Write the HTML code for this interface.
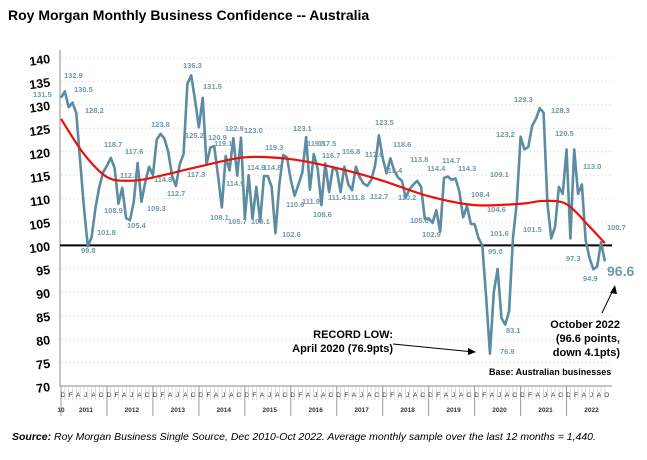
<!DOCTYPE html>
<html><head><meta charset="utf-8"><style>
body{margin:0;background:#fff;width:647px;height:455px;overflow:hidden;font-family:"Liberation Sans",Arial,sans-serif}
</style></head><body>
<svg id="c" width="647" height="455" xmlns="http://www.w3.org/2000/svg">
<text x="8" y="20" font-size="14" font-weight="bold" fill="#000">Roy Morgan Monthly Business Confidence -- Australia</text>
<g id="grid"></g><g id="axes"></g><g id="series"></g><g id="labels"></g>
<text x="12" y="440" font-size="10.5" font-style="italic" fill="#000"><tspan font-weight="bold">Source:</tspan> Roy Morgan Business Single Source, Dec 2010-Oct 2022. Average monthly sample over the last 12 months = 1,440.</text>
<text x="489" y="375" font-size="9" font-weight="bold" fill="#000">Base: Australian businesses</text>
<g>
<text x="393" y="338" font-size="11" font-weight="bold" text-anchor="end">RECORD LOW:</text>
<text x="393" y="352" font-size="11" font-weight="bold" text-anchor="end">April 2020 (76.9pts)</text>
<line x1="393" y1="344" x2="474" y2="352" stroke="#000" stroke-width="1"/>
<polygon points="476,352 468,348 468,355" fill="#000"/>
</g>
<g>
<text x="620" y="328" font-size="11" font-weight="bold" text-anchor="end">October 2022</text>
<text x="620" y="342" font-size="11" font-weight="bold" text-anchor="end">(96.6 points,</text>
<text x="620" y="356" font-size="11" font-weight="bold" text-anchor="end">down 4.1pts)</text>
<line x1="602" y1="313" x2="614" y2="288" stroke="#000" stroke-width="1"/>
<polygon points="615,285 610,293 617,294" fill="#000"/>
</g>
</svg>
<script>
const months=["D","J","F","M","A","M","J","J","A","S","O","N"];
const years=["10","2011","2012","2013","2014","2015","2016","2017","2018","2019","2020","2021","2022"];
const yTicks=[70,75,80,85,90,95,100,105,110,115,120,125,130,135,140];
const confidence=[131.5,
132.9,129.5,130.5,128.2,118,108,99.8,101.8,108,112.5,115.6,117,
118.7,116.5,108.9,112.3,105.8,105.4,109.3,117.6,109.3,113.5,116.8,115,
122.6,123.8,122.8,120,114.8,112.7,117.3,119.5,134.5,136.3,131,125.2,
131.5,117.3,120.9,121.2,114.9,108.1,119.1,116,122.9,114.9,123.0,105.7,
115,105.7,112.5,105.1,114.8,114.8,112.5,102.6,113,119.3,118.8,114,
110.6,113,115.5,123.1,111.9,119.5,116.5,108.6,117.5,111.4,116.7,116,
111.4,116.8,113,111.8,116.8,114.5,113.2,112.7,114,117,123.5,118.6,
115.4,118.6,116,114.5,113.8,110.2,112,113,113.8,112.5,105.6,105.8,
104.8,107.5,102.9,114.4,114.7,114,114.3,111.5,106,108.4,104.6,104.5,
101.6,100,89,76.9,90,95.0,84.5,83.1,86,101.5,109.1,123.2,
120.5,121,125.5,127,129.3,128.3,109,101.5,104,112.5,111,120.5,
101.5,120.5,111,113,101,97.3,94.9,95.5,100.7,96.6];
const trendIdx=[0,6,12,18,24,36,48,60,72,84,96,108,120,126,132,138,142];
const trendVal=[127,119.5,114.6,113.8,114.5,116.8,118.8,118.4,116.5,113.8,110.5,108.6,108.9,109.5,108.8,104,100.5];
const labelText=["131.5","132.9","130.5","128.2","99.8","101.8","118.7","112.3","108.9","105.4","117.6","109.3","123.8","114.8","112.7","117.3","125.2","136.3","131.5","120.9","119.1","122.9","123.0","114.9","114.8","114.9","108.1","105.7","105.1","102.6","119.3","110.6","123.1","119.5","111.9","108.6","117.5","116.7","111.4","116.8","111.8","117.0","112.7","123.5","118.6","115.4","113.8","110.2","114.4","114.7","114.3","105.6","102.9","108.4","109.1","104.6","101.6","95.0","83.1","76.9","123.2","101.5","129.3","128.3","120.5","113.0","100.7","97.3","94.9"];
const labelX=[33,64,74,85,81,97,104,120,104,127,125,147,151,154,167,187,185,183,203,208,214,225,244,247,263,226,210,228,251,282,265,286,293,307,302,313,318,322,328,342,347,365,370,375,393,384,410,398,427,442,458,410,422,471,490,487,490,488,506,500,496,523,514,551,555,583,607,566,583];
const labelY=[97,78,92,113,253,235,147,178,213,228,154,211,127,182,196,177,138,68,89,140,146,131,133,170,170,186,220,224,224,237,150,207,131,146,204,217,146,158,200,154,200,157,199,125,147,173,162,200,171,163,171,223,237,197,177,212,236,254,333,354,137,232,102,113,136,169,230,261,281];
const X0=61,DX=3.83,Y140=58,Y70=386;
const x=i=>X0+i*DX;
const y=v=>Y70-(v-70)*(Y70-Y140)/70;
const NS="http://www.w3.org/2000/svg";
function mk(p,t,a){const e=document.createElementNS(NS,t);for(const k in a)e.setAttribute(k,a[k]);p.appendChild(e);return e;}
const grid=document.getElementById('grid'),axes=document.getElementById('axes'),ser=document.getElementById('series'),lab=document.getElementById('labels');
yTicks.forEach(v=>{
  const t=mk(axes,'text',{x:50,y:y(v)+5,'font-size':12.5,'font-weight':'bold','text-anchor':'end',transform:`rotate(-8 50 ${y(v)})`});
  t.textContent=v;
  
  
 if(v>70){const g=mk(grid,'line',{x1:61,x2:612,y1:y(v),y2:y(v),stroke:'#e3e3e3','stroke-dasharray':'2,2'});
 
 }
});
const ax=mk(axes,'line',{x1:60,x2:60,y1:50,y2:386,stroke:'#888'});


const xa=mk(axes,'line',{x1:60,x2:612,y1:386,y2:386,stroke:'#888'});


for(let i=0;i<confidence.length;i++){
 const tk=mk(axes,'line',{x1:x(i),x2:x(i),y1:386,y2:(i%12===0?416:400),stroke:i%12===0?'#999':'#ccc','stroke-width':i%12===0?1:0.7});
 
 
 if(i%2===0){const m=mk(axes,'text',{x:x(i)+1.9,y:397,'font-size':6.5,'text-anchor':'middle',fill:'#333'});m.textContent=months[i%12];
 
 }
}
years.forEach((yr,k)=>{
 const cx=k===0?x(0):x(12*(k-1)+6.5);
 const t=mk(axes,'text',{x:cx,y:412,'font-size':6.5,'font-weight':'bold','text-anchor':'middle',fill:'#333'});t.textContent=yr;
 
 
});
const base=mk(ser,'line',{x1:60,x2:612,y1:y(100),y2:y(100),stroke:'#000','stroke-width':2});


const pl=mk(ser,'polyline',{points:confidence.map((v,i)=>x(i)+','+y(v)).join(' '),fill:'none',stroke:'#5b8ca2','stroke-width':2.6,'stroke-linejoin':'round'});


const P=trendIdx.map((t,i)=>[x(t),y(trendVal[i])]);
let d='M'+P[0].join(',');
for(let i=0;i<P.length-1;i++){const p0=P[i-1]||P[i],p1=P[i],p2=P[i+1],p3=P[i+2]||P[i+1];
 d+=` C${p1[0]+(p2[0]-p0[0])/6},${p1[1]+(p2[1]-p0[1])/6} ${p2[0]-(p3[0]-p1[0])/6},${p2[1]-(p3[1]-p1[1])/6} ${p2[0]},${p2[1]}`;}
const tr=mk(ser,'path',{d:d,fill:'none',stroke:'#e8120c','stroke-width':2.2});


labelText.forEach((t,k)=>{
 const e=mk(lab,'text',{x:labelX[k],y:labelY[k],'font-size':7.5,'font-weight':'bold',fill:'#6f98aa'});e.textContent=t;
 
 
});
const last=mk(lab,'text',{x:607,y:276,'font-size':14,'font-weight':'bold',fill:'#6f98aa'});last.textContent="96.6";


</script>
</body></html>
